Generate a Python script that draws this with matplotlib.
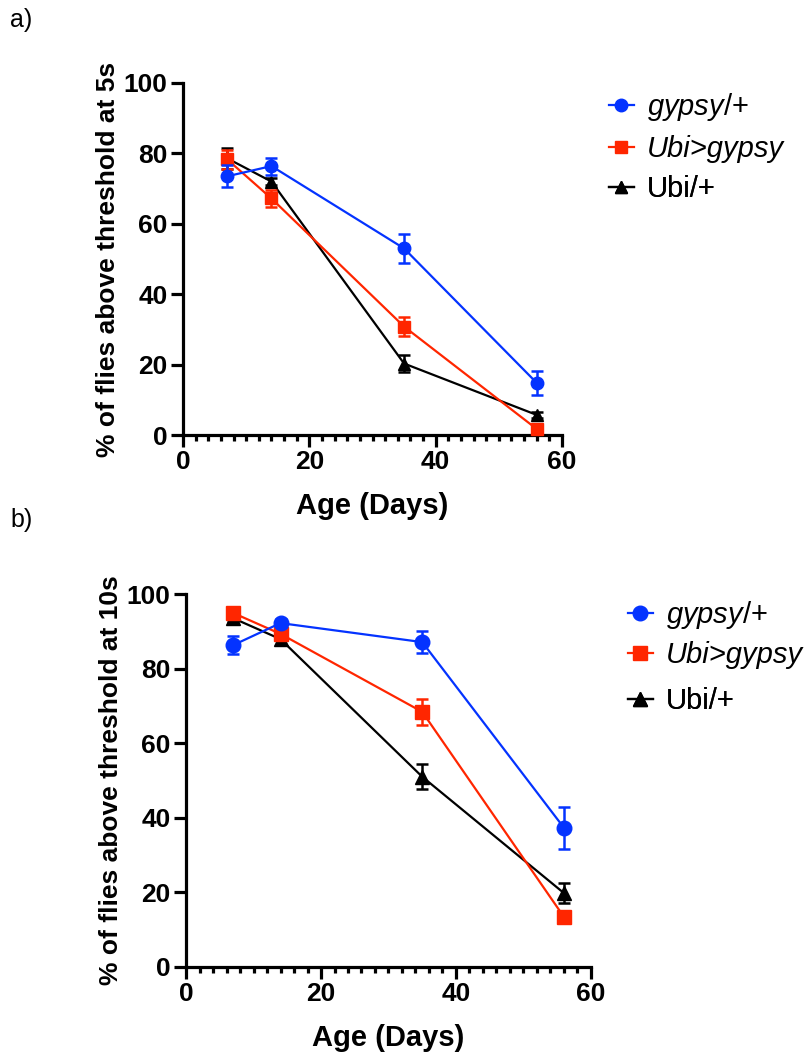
import matplotlib
matplotlib.use("Agg")
import matplotlib.pyplot as plt
from matplotlib.lines import Line2D
from matplotlib.ticker import MultipleLocator

plt.rcParams['font.family'] = ['Liberation Sans', 'DejaVu Sans']
plt.rcParams['mathtext.fontset'] = 'custom'
plt.rcParams['mathtext.rm'] = 'Liberation Sans'
plt.rcParams['mathtext.it'] = 'Liberation Sans:italic'

# Age in days
days = [7, 14, 35, 56]

# Panel a: % above threshold at 5 s (mean, SEM)
a_gypsy = [73.5, 76.4, 53.0, 14.8]
a_gypsy_err = [3.1, 2.4, 4.0, 3.4]
a_ubigypsy = [78.3, 67.2, 30.8, 1.7]
a_ubigypsy_err = [2.6, 2.4, 2.8, 0.8]
a_ubi = [78.6, 72.0, 20.3, 5.7]
a_ubi_err = [2.9, 1.0, 2.4, 0.8]

# Panel b: % above threshold at 10 s (mean, SEM)
b_gypsy = [86.3, 92.2, 87.1, 37.3]
b_gypsy_err = [2.4, 1.0, 2.9, 5.6]
b_ubigypsy = [94.9, 89.3, 68.4, 13.4]
b_ubigypsy_err = [1.0, 1.5, 3.5, 1.0]
b_ubi = [93.5, 87.9, 51.0, 19.8]
b_ubi_err = [1.0, 1.5, 3.3, 2.6]

labels = [r'$\mathit{gypsy}$/+', 'Ubi>gypsy', 'Ubi/+']
label_styles = ['normal', 'italic', 'normal']
colors = ['#0433FF', '#FF2600', '#000000']
markers = ['o', 's', '^']

fig = plt.figure(figsize=(8.07, 10.57), dpi=100)
W, H = 807, 1057


def px_axes(left, top, right, bottom):
    return fig.add_axes([left / W, 1 - bottom / H, (right - left) / W, (bottom - top) / H])


def draw_panel(ax, series, errs, ylabel, msize, leg_x, leg_rows):
    zorders = [5, 4, 3]
    for y, e, c, m, lab, z in zip(series, errs, colors, markers, labels, zorders):
        ax.errorbar(days, y, yerr=e, color=c, marker=m, markersize=msize,
                    linewidth=1.6, elinewidth=1.8, capsize=4.5, capthick=1.8,
                    label=lab, zorder=z, clip_on=False)
    ax.set_xlim(0, 60)
    ax.set_ylim(0, 100)
    ax.xaxis.set_major_locator(MultipleLocator(20))
    ax.xaxis.set_minor_locator(MultipleLocator(2))
    ax.yaxis.set_major_locator(MultipleLocator(20))
    for s in ['top', 'right']:
        ax.spines[s].set_visible(False)
    for s in ['left', 'bottom']:
        ax.spines[s].set_linewidth(2.3)
    ax.tick_params(axis='both', which='major', length=8.5, width=2.3, labelsize=19, pad=2.5)
    ax.tick_params(axis='x', which='minor', length=4.5, width=2.3)
    for t in ax.get_xticklabels() + ax.get_yticklabels():
        t.set_fontweight('bold')
    ax.set_xlabel('Age (Days)', fontsize=21, fontweight='bold', labelpad=13)
    ax.set_ylabel(ylabel, fontsize=19, fontweight='bold', labelpad=3)

    # one legend per row so each entry sits at its own height
    for c, m, lab, st, yrow in zip(colors, markers, labels, label_styles, leg_rows):
        h = Line2D([0], [0], color=c, marker=m, markersize=msize, linewidth=1.6)
        leg = ax.legend(handles=[h], labels=[lab], loc='center left',
                        bbox_to_anchor=(leg_x / W, 1 - yrow / H),
                        bbox_transform=fig.transFigure, frameon=False, fontsize=21,
                        handlelength=0.85, handletextpad=0.45,
                        borderaxespad=0, borderpad=0)
        leg.get_texts()[0].set_style(st)
        ax.add_artist(leg)
    return ax


ax1 = px_axes(183, 83, 562, 435)
draw_panel(ax1, [a_gypsy, a_ubigypsy, a_ubi], [a_gypsy_err, a_ubigypsy_err, a_ubi_err],
           '% of flies above threshold at 5s', 9, 609, [107, 149, 189])

ax2 = px_axes(186, 594, 591, 967)
draw_panel(ax2, [b_gypsy, b_ubigypsy, b_ubi], [b_gypsy_err, b_ubigypsy_err, b_ubi_err],
           '% of flies above threshold at 10s', 10.5, 628, [615, 655, 701])

fig.text(10 / W, 1 - 8 / H, 'a)', fontsize=18, va='top')
fig.text(10 / W, 1 - 508 / H, 'b)', fontsize=18, va='top')

fig.savefig('out.png', dpi=100)
